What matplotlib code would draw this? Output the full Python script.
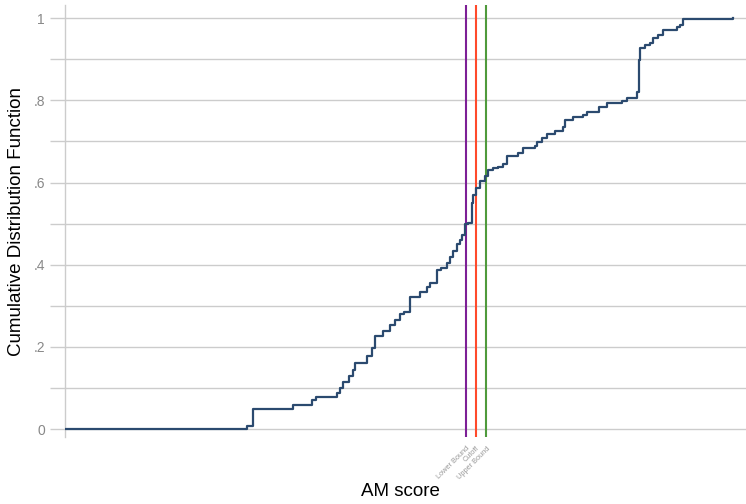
import matplotlib
matplotlib.use('Agg')
import matplotlib.pyplot as plt
from matplotlib.ticker import MultipleLocator, FixedLocator

plt.rcParams['font.family'] = ['Liberation Sans', 'DejaVu Sans']

# step points of the empirical CDF (AM score, cumulative share)
am_score = [0.0, 22.1, 27.2, 28.1, 34.0, 36.9, 37.5, 40.6, 41.0, 41.5, 42.4, 43.0,
            43.3, 45.1, 45.8, 46.3, 47.5, 48.5, 49.3, 50.0, 50.6, 51.5, 53.0, 54.0,
            54.5, 55.5, 56.1, 57.0, 57.5, 57.9, 58.5, 59.0, 59.3, 59.7, 60.1, 60.7,
            60.9, 61.3, 61.9, 62.7, 63.1, 63.9, 64.6, 65.4, 66.0, 67.6, 68.4, 70.1,
            70.4, 71.2, 71.9, 73.1, 74.3, 74.6, 75.8, 77.3, 77.9, 79.7, 80.9, 83.1,
            83.9, 85.4, 85.7, 85.8, 86.6, 87.3, 87.8, 88.5, 89.3, 91.3, 91.8, 92.2,
            95.5, 99.7]
cdf = [0.0, 0.001, 0.007, 0.049, 0.058, 0.071, 0.078, 0.088, 0.100, 0.114, 0.129, 0.144,
       0.161, 0.178, 0.197, 0.226, 0.238, 0.253, 0.265, 0.280, 0.285, 0.321, 0.333, 0.345,
       0.355, 0.387, 0.392, 0.404, 0.418, 0.433, 0.450, 0.460, 0.472, 0.499, 0.501, 0.550,
       0.569, 0.586, 0.603, 0.616, 0.630, 0.635, 0.637, 0.645, 0.664, 0.672, 0.684, 0.689,
       0.698, 0.708, 0.718, 0.725, 0.735, 0.752, 0.759, 0.764, 0.771, 0.783, 0.793, 0.798,
       0.805, 0.820, 0.898, 0.927, 0.934, 0.939, 0.951, 0.959, 0.971, 0.978, 0.983, 0.998,
       0.999, 1.0]

cut_names = ['Lower Bound', 'Cutoff', 'Upper Bound']
cut_values = [59.85, 61.3, 62.9]
cut_colors = ['#7d1f96', '#ff4a2b', '#4f9a3c']

y_ticks = [0, 0.2, 0.4, 0.6, 0.8, 1.0]
y_labels = ['0', '.2', '.4', '.6', '.8', '1']

fig = plt.figure(figsize=(7.46, 5.04), dpi=100)
ax = fig.add_axes([64.5 / 746, 67 / 504, 1 - 64.5 / 746, 432 / 504])

ax.step(am_score, cdf, where='post', color='#2b4a6f', linewidth=1.6, zorder=3)
for xv, c in zip(cut_values, cut_colors):
    ax.axvline(xv, color=c, linewidth=1.5, zorder=2)

ax.set_xlim(0, 101.6)
ax.set_ylim(-0.019, 1.032)

ax.yaxis.set_major_locator(FixedLocator(y_ticks))
ax.set_yticklabels(y_labels)
ax.yaxis.set_minor_locator(MultipleLocator(0.1))
ax.grid(True, axis='y', which='both', color='#cccccc', linewidth=1)
ax.tick_params(axis='y', which='both', length=11, color='#cccccc', width=1,
               labelsize=10, labelcolor='#888888', pad=3)

ax.set_xticks(cut_values)
ax.set_xticklabels(cut_names, rotation=45, ha='right', va='top', rotation_mode='anchor',
                   fontsize=5.3, color='#999999')
ax.tick_params(axis='x', length=0, pad=6)

for s in ['top', 'right', 'bottom']:
    ax.spines[s].set_visible(False)
ax.spines['left'].set_color('#cccccc')
ax.spines['left'].set_linewidth(1)

fig.text(17 / 746, 1 - 221 / 504, 'Cumulative Distribution Function', rotation=90,
         ha='center', va='center', fontsize=13.5)
fig.text(400 / 746, 1 - 492 / 504, 'AM score', ha='center', va='center', fontsize=13.5)

fig.savefig('out.png', dpi=100)
